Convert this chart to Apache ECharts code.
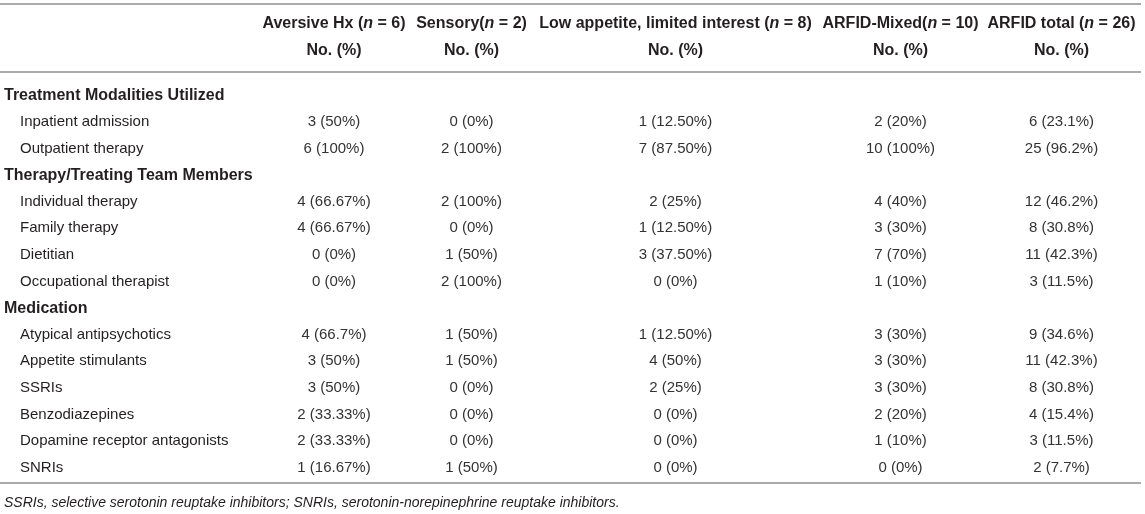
<!DOCTYPE html>
<html>
<head>
<meta charset="utf-8">
<script src="https://cdn.jsdelivr.net/npm/echarts@6/dist/echarts.min.js"></script>
<style>
  html, body { margin: 0; padding: 0; background: #fff; }
  #main { width: 1145px; height: 514px; }
</style>
</head>
<body>
<div id="main"></div>
<script>
// row labels, section rows are bold
const rowLabels = [
  "Treatment Modalities Utilized", "Inpatient admission", "Outpatient therapy",
  "Therapy/Treating Team Members", "Individual therapy", "Family therapy", "Dietitian", "Occupational therapist",
  "Medication", "Atypical antipsychotics", "Appetite stimulants", "SSRIs", "Benzodiazepines",
  "Dopamine receptor antagonists", "SNRIs"
];
const sectionRows = [0, 3, 8];

// column groups
const groupNames = ["Aversive Hx ", "Sensory", "Low appetite, limited interest ", "ARFID-Mixed", "ARFID total "];
const groupN = [6, 2, 8, 10, 26];

// cell values: count and percent per row (null for section rows)
const aversiveCount = [null, 3, 6, null, 4, 4, 0, 0, null, 4, 3, 3, 2, 2, 1];
const aversivePct = [null, "50", "100", null, "66.67", "66.67", "0", "0", null, "66.7", "50", "50", "33.33", "33.33", "16.67"];
const sensoryCount = [null, 0, 2, null, 2, 0, 1, 2, null, 1, 1, 0, 0, 0, 1];
const sensoryPct = [null, "0", "100", null, "100", "0", "50", "100", null, "50", "50", "0", "0", "0", "50"];
const lowAppCount = [null, 1, 7, null, 2, 1, 3, 0, null, 1, 4, 2, 0, 0, 0];
const lowAppPct = [null, "12.50", "87.50", null, "25", "12.50", "37.50", "0", null, "12.50", "50", "25", "0", "0", "0"];
const mixedCount = [null, 2, 10, null, 4, 3, 7, 1, null, 3, 3, 3, 2, 1, 0];
const mixedPct = [null, "20", "100", null, "40", "30", "70", "10", null, "30", "30", "30", "20", "10", "0"];
const totalCount = [null, 6, 25, null, 12, 8, 11, 3, null, 9, 11, 8, 4, 3, 2];
const totalPct = [null, "23.1", "96.2", null, "46.2", "30.8", "42.3", "11.5", null, "34.6", "42.3", "30.8", "15.4", "11.5", "7.7"];

const footnote = "SSRIs, selective serotonin reuptake inhibitors; SNRIs, serotonin-norepinephrine reuptake inhibitors.";

// layout
const colX = [334, 471.5, 675.5, 900.5, 1061.5];
const FONT = "'Liberation Sans', Arial, Helvetica, sans-serif";
const TEXT = "#231f20";
const RULE = "#aaaaaa";

const counts = [aversiveCount, sensoryCount, lowAppCount, mixedCount, totalCount];
const pcts = [aversivePct, sensoryPct, lowAppPct, mixedPct, totalPct];

let cellData = [];
counts.forEach((col, c) => {
  col.forEach((v, r) => {
    if (v !== null) cellData.push([colX[c], r, v + " (" + pcts[c][r] + "%)"]);
  });
});
let labelData = rowLabels.map((name, r) => [sectionRows.includes(r) ? 4 : 20, r, name]);

let chart = echarts.init(document.getElementById("main"));

let headerGraphics = [];
groupNames.forEach((g, c) => {
  headerGraphics.push({
    type: "text",
    x: colX[c], y: 24,
    style: {
      text: g + "({i|n} = " + groupN[c] + ")",
      align: "center", verticalAlign: "middle",
      fontFamily: FONT, fontSize: 16, fontWeight: "bold", fill: TEXT,
      rich: { i: { fontStyle: "italic", fontWeight: "bold", fontSize: 16, fontFamily: FONT, fill: TEXT } }
    }
  });
  headerGraphics.push({
    type: "text",
    x: colX[c], y: 51,
    style: {
      text: "No. (%)", align: "center", verticalAlign: "middle",
      fontFamily: FONT, fontSize: 16, fontWeight: "bold", fill: TEXT
    }
  });
});

function rule(y) {
  return { type: "line", shape: { x1: 0, y1: y, x2: 1141, y2: y }, style: { stroke: RULE, lineWidth: 2 } };
}

chart.setOption({
  animation: false,
  grid: { left: 0, right: 0, top: 82, bottom: 33 },
  xAxis: { type: "value", min: 0, max: 1145, show: false },
  yAxis: { type: "category", data: rowLabels, inverse: true, show: false },
  graphic: [
    rule(4), rule(72), rule(483),
    ...headerGraphics,
    {
      type: "text", x: 4, y: 503,
      style: {
        text: footnote, align: "left", verticalAlign: "middle",
        fontFamily: FONT, fontSize: 14, fontStyle: "italic", fill: TEXT
      }
    }
  ],
  series: [
    {
      type: "custom",
      data: labelData,
      renderItem: (params, api) => {
        let r = api.value(1);
        let p = api.coord([api.value(0), r]);
        let bold = sectionRows.includes(r);
        return {
          type: "text", x: p[0], y: p[1],
          style: {
            text: rowLabels[r], align: "left", verticalAlign: "middle",
            fontFamily: FONT, fontSize: bold ? 16 : 15, fontWeight: bold ? "bold" : "normal", fill: TEXT
          }
        };
      }
    },
    {
      type: "custom",
      data: cellData,
      renderItem: (params, api) => {
        let p = api.coord([api.value(0), api.value(1)]);
        return {
          type: "text", x: p[0], y: p[1],
          style: {
            text: cellData[params.dataIndex][2], align: "center", verticalAlign: "middle",
            fontFamily: FONT, fontSize: 15, fill: "#333"
          }
        };
      }
    }
  ]
});
</script>
</body>
</html>
